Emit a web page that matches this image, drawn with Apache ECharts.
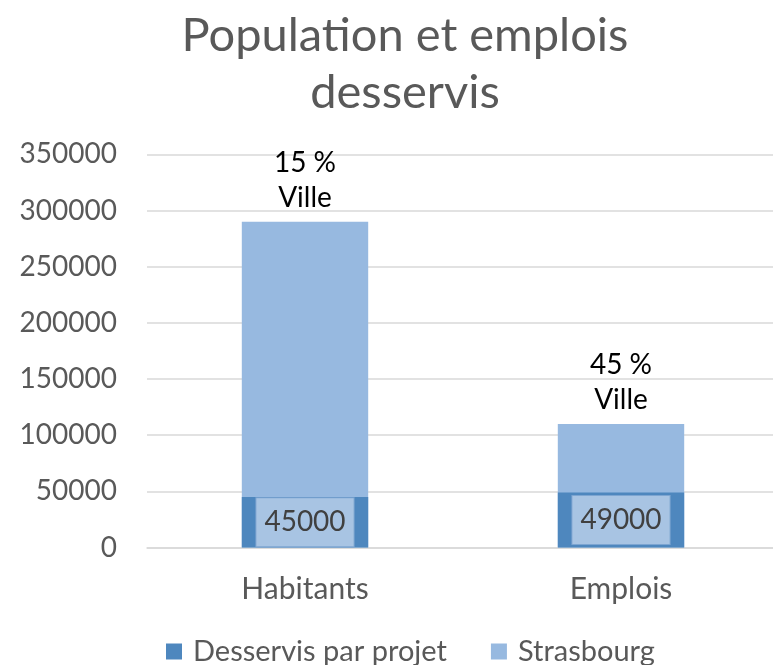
<!DOCTYPE html>
<html><head><meta charset="utf-8">
<script src="https://cdn.jsdelivr.net/npm/echarts@6/dist/echarts.min.js"></script>
<style>html,body{margin:0;padding:0;background:#fff;overflow:hidden;width:773px;height:665px}#c{width:779px;height:665px}</style>
</head><body><div id="c"></div>
<script>
const categories = ['Habitants', 'Emplois'];
const desservis = [45000, 49000];
const strasbourg = [290000, 110000];
const shareLabels = ['15 %\nVille', '45 %\nVille'];
const yTicks = [0, 50000, 100000, 150000, 200000, 250000, 300000, 350000];

const FONT = 'Lato';
const chart = echarts.init(document.getElementById('c'), null, {renderer: 'canvas'});
chart.setOption({
  animation: false,
  textStyle: {fontFamily: FONT},
  title: {
    text: 'Population et emplois\ndesservis',
    left: 400, top: 2, textAlign: 'center',
    textStyle: {fontFamily: FONT, fontSize: 47, fontWeight: 'normal', color: '#595959', lineHeight: 57}
  },
  legend: {
    bottom: -6, left: 161,
    itemWidth: 16, itemHeight: 16, itemGap: 44,
    icon: 'rect',
    textStyle: {fontFamily: FONT, fontSize: 29, color: '#595959', padding: [0, 0, 0, 6]},
    data: ['Desservis par projet', 'Strasbourg']
  },
  grid: {left: 147, right: 0, top: 154.3, bottom: 117.5, containLabel: false},
  xAxis: {
    type: 'category', data: categories,
    axisLine: {show: true, lineStyle: {color: '#D9D9D9', width: 1.5}},
    axisTick: {show: false},
    axisLabel: {fontFamily: FONT, fontSize: 30, color: '#595959', margin: 27}
  },
  yAxis: {
    type: 'value', min: yTicks[0], max: yTicks[yTicks.length - 1], interval: 50000,
    axisLine: {show: false}, axisTick: {show: false},
    splitLine: {lineStyle: {color: '#D9D9D9', width: 1.5}},
    axisLabel: {fontFamily: FONT, fontSize: 28, color: '#595959', margin: 30, formatter: v => String(v)}
  },
  series: [
    {
      name: 'Desservis par projet', type: 'bar', data: desservis, z: 3,
      barWidth: '40%', barGap: '-100%',
      itemStyle: {color: '#4E87BE'},
      label: {
        show: true, position: 'inside',
        fontFamily: FONT, fontSize: 28, color: '#404040',
        backgroundColor: '#A8C4E3', borderColor: '#7DA5D1', borderWidth: 1,
        padding: [9, 8, 9, 8], lineHeight: 30
      }
    },
    {
      name: 'Strasbourg', type: 'bar', data: strasbourg, z: 2,
      barWidth: '40%', barGap: '-100%',
      itemStyle: {color: '#97B9E0'},
      label: {
        show: true, position: 'top', distance: 6,
        fontFamily: FONT, fontSize: 28, color: '#000000', lineHeight: 35,
        formatter: p => shareLabels[p.dataIndex]
      }
    }
  ]
});
</script></body></html>
